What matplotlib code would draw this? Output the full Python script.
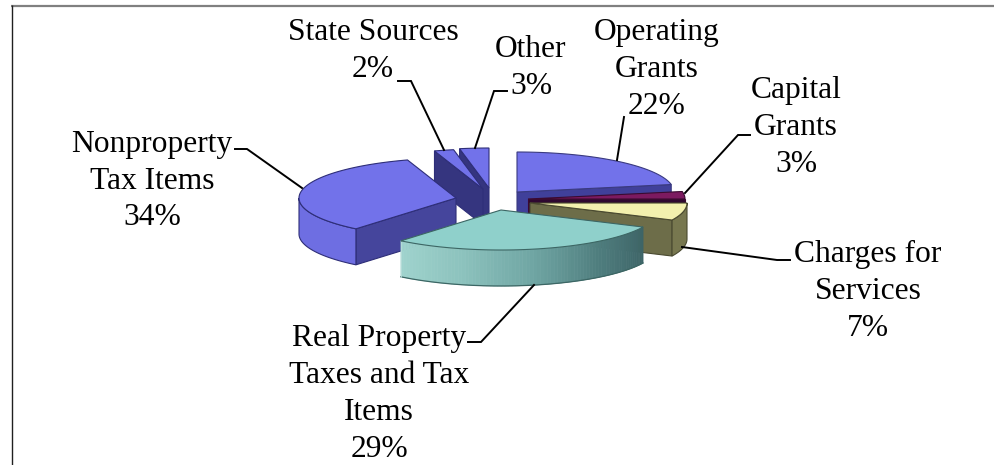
import numpy as np
import matplotlib
matplotlib.use("Agg")
import matplotlib.pyplot as plt
from matplotlib.colors import to_rgb
from matplotlib.patches import Polygon

categories = ["Operating\nGrants", "Capital\nGrants", "Charges for\nServices",
              "Real Property\nTaxes and Tax\nItems", "Nonproperty\nTax Items",
              "State Sources", "Other"]
shares = [22, 3, 7, 29, 34, 2, 3]

# Pie projection, in pixels
RX, RY, DEPTH = 157, 40, 36

# Exploded slice centres
centres = [(517, 192), (528, 199), (530, 203), (501, 210), (456, 198), (483, 189), (489, 188)]

top_colours = ["#7272ea", "#7c1a60", "#f2f0ae", "#8fd0cb", "#7272ea", "#7272ea", "#7272ea"]
rim_colours = ["#6666d8", "#4a1040", "#77774f", "#8fc6c1", "#6e6ee2", "#6666d8", "#6666d8"]
cut_colours = ["#40409a", "#2e0830", "#6d6d49", "#5a8a88", "#45459c", "#35357f", "#35357f"]
edge_colours = ["#3a3a80", "#3a0a30", "#4a4a30", "#3c6664", "#2e2e78", "#2e2e78", "#2e2e78"]

label_xy = [(657, 69.5), (796, 127.5), (868, 291.5), (379, 394), (152, 181), (373, 51), (531, 68)]
leaders = [
    [(624, 117), (617, 160)],
    [(750, 135), (738, 135), (685, 193)],
    [(790, 260), (777, 260), (682, 247)],
    [(468, 342), (481, 342), (534, 285)],
    [(235, 149), (247, 149), (302, 188)],
    [(398, 81), (411, 81), (444, 150)],
    [(507, 91), (494, 91), (475, 148)],
]

# Shading along the front rim of the largest front slice
TEAL_RAMP = ["#a0d4ce", "#8cc2bd", "#6fa5a3", "#4f7d7e", "#3d6467"]

fig = plt.figure(figsize=(9.95, 4.65), dpi=100, facecolor="white")
ax = fig.add_axes([0, 0, 1, 1])
ax.set_xlim(0, 995)
ax.set_ylim(465, 0)
ax.axis("off")


def rim_point(centre, angle):
    """Point on the projected rim; angle runs clockwise from twelve o'clock."""
    t = np.radians(angle)
    return np.array([centre[0] + RX * np.sin(t), centre[1] - RY * np.cos(t)])


def arc(centre, a0, a1):
    ts = np.radians(np.linspace(a0, a1, max(int(abs(a1 - a0) * 2), 2)))
    return np.column_stack([centre[0] + RX * np.sin(ts), centre[1] - RY * np.cos(ts)])


def cut_face(centre, angle, colour, edge, z):
    c = np.array(centre, float)
    r = rim_point(centre, angle)
    d = np.array([0, DEPTH])
    ax.add_patch(Polygon([c, r, r + d, c + d], closed=True, facecolor=colour,
                         edgecolor=edge, linewidth=0.8, zorder=z))


def ramp_colour(f):
    pts = np.array([to_rgb(h) for h in TEAL_RAMP])
    pos = np.linspace(0, 1, len(pts))
    return [np.interp(f, pos, pts[:, i]) for i in range(3)]


edges = np.concatenate([[0], np.cumsum(shares)]) * 360.0 / sum(shares)

# Paint from the back of the pie towards the viewer
paint_order = [6, 5, 4, 0, 1, 2, 3]
for layer, i in enumerate(paint_order):
    a0, a1 = edges[i], edges[i + 1]
    c = centres[i]
    z = 2 + layer * 0.1

    # Radial cut faces that turn towards the viewer
    if 180 < a0 < 360:
        cut_face(c, a0, cut_colours[i], edge_colours[i], z)
    if 0 < a1 < 180:
        cut_face(c, a1, cut_colours[i], edge_colours[i], z)

    # Outer wall, only on the front half of the ellipse
    w0, w1 = max(a0, 90), min(a1, 270)
    if w1 > w0:
        if i == 3:
            steps = np.linspace(w0, w1, 80)
            for s0, s1 in zip(steps[:-1], steps[1:]):
                seg = arc(c, s0, s1)
                quad = np.vstack([seg, seg[::-1] + [0, DEPTH]])
                f = 1 - (s0 - w0) / (w1 - w0)
                col = ramp_colour(f)
                ax.add_patch(Polygon(quad, closed=True, facecolor=col, edgecolor=col,
                                     linewidth=0.5, zorder=z))
            low = arc(c, w0, w1) + [0, DEPTH]
            ax.plot(low[:, 0], low[:, 1], color=edge_colours[i], lw=0.9, zorder=z + 0.01)
            ends = rim_point(c, w1)
            ax.plot([ends[0]] * 2, [ends[1], ends[1] + DEPTH], color="#b8dcd8", lw=0.6, zorder=z + 0.01)
        else:
            seg = arc(c, w0, w1)
            wall = np.vstack([seg, seg[::-1] + [0, DEPTH]])
            ax.add_patch(Polygon(wall, closed=True, facecolor=rim_colours[i],
                                 edgecolor=edge_colours[i], linewidth=0.8, zorder=z))

    # Top surface
    top = np.vstack([[c], arc(c, a0, a1)])
    ax.add_patch(Polygon(top, closed=True, facecolor=top_colours[i],
                         edgecolor=edge_colours[i], linewidth=0.8, zorder=z + 0.02))

# Leader lines
for pts in leaders:
    xs, ys = zip(*pts)
    ax.plot(xs, ys, color="black", lw=1.4, solid_joinstyle="miter", zorder=5)

# Slice labels with their percentages
for name, share, (x, y) in zip(categories, shares, label_xy):
    ax.text(x, y, f"{name}\n{share}%", ha="center", va="center", color="black",
            family="Liberation Serif", fontsize=22.7, linespacing=1.36, zorder=6)

# Plot area border, cut off by the image on two sides
ax.plot([11, 995], [5.7, 5.7], color="#808080", lw=1.6, zorder=1, solid_capstyle="butt")
ax.plot([11.5, 11.5], [5, 465], color="#202020", lw=1.0, zorder=1, solid_capstyle="butt")

fig.savefig("out.png", dpi=100, facecolor="white")
